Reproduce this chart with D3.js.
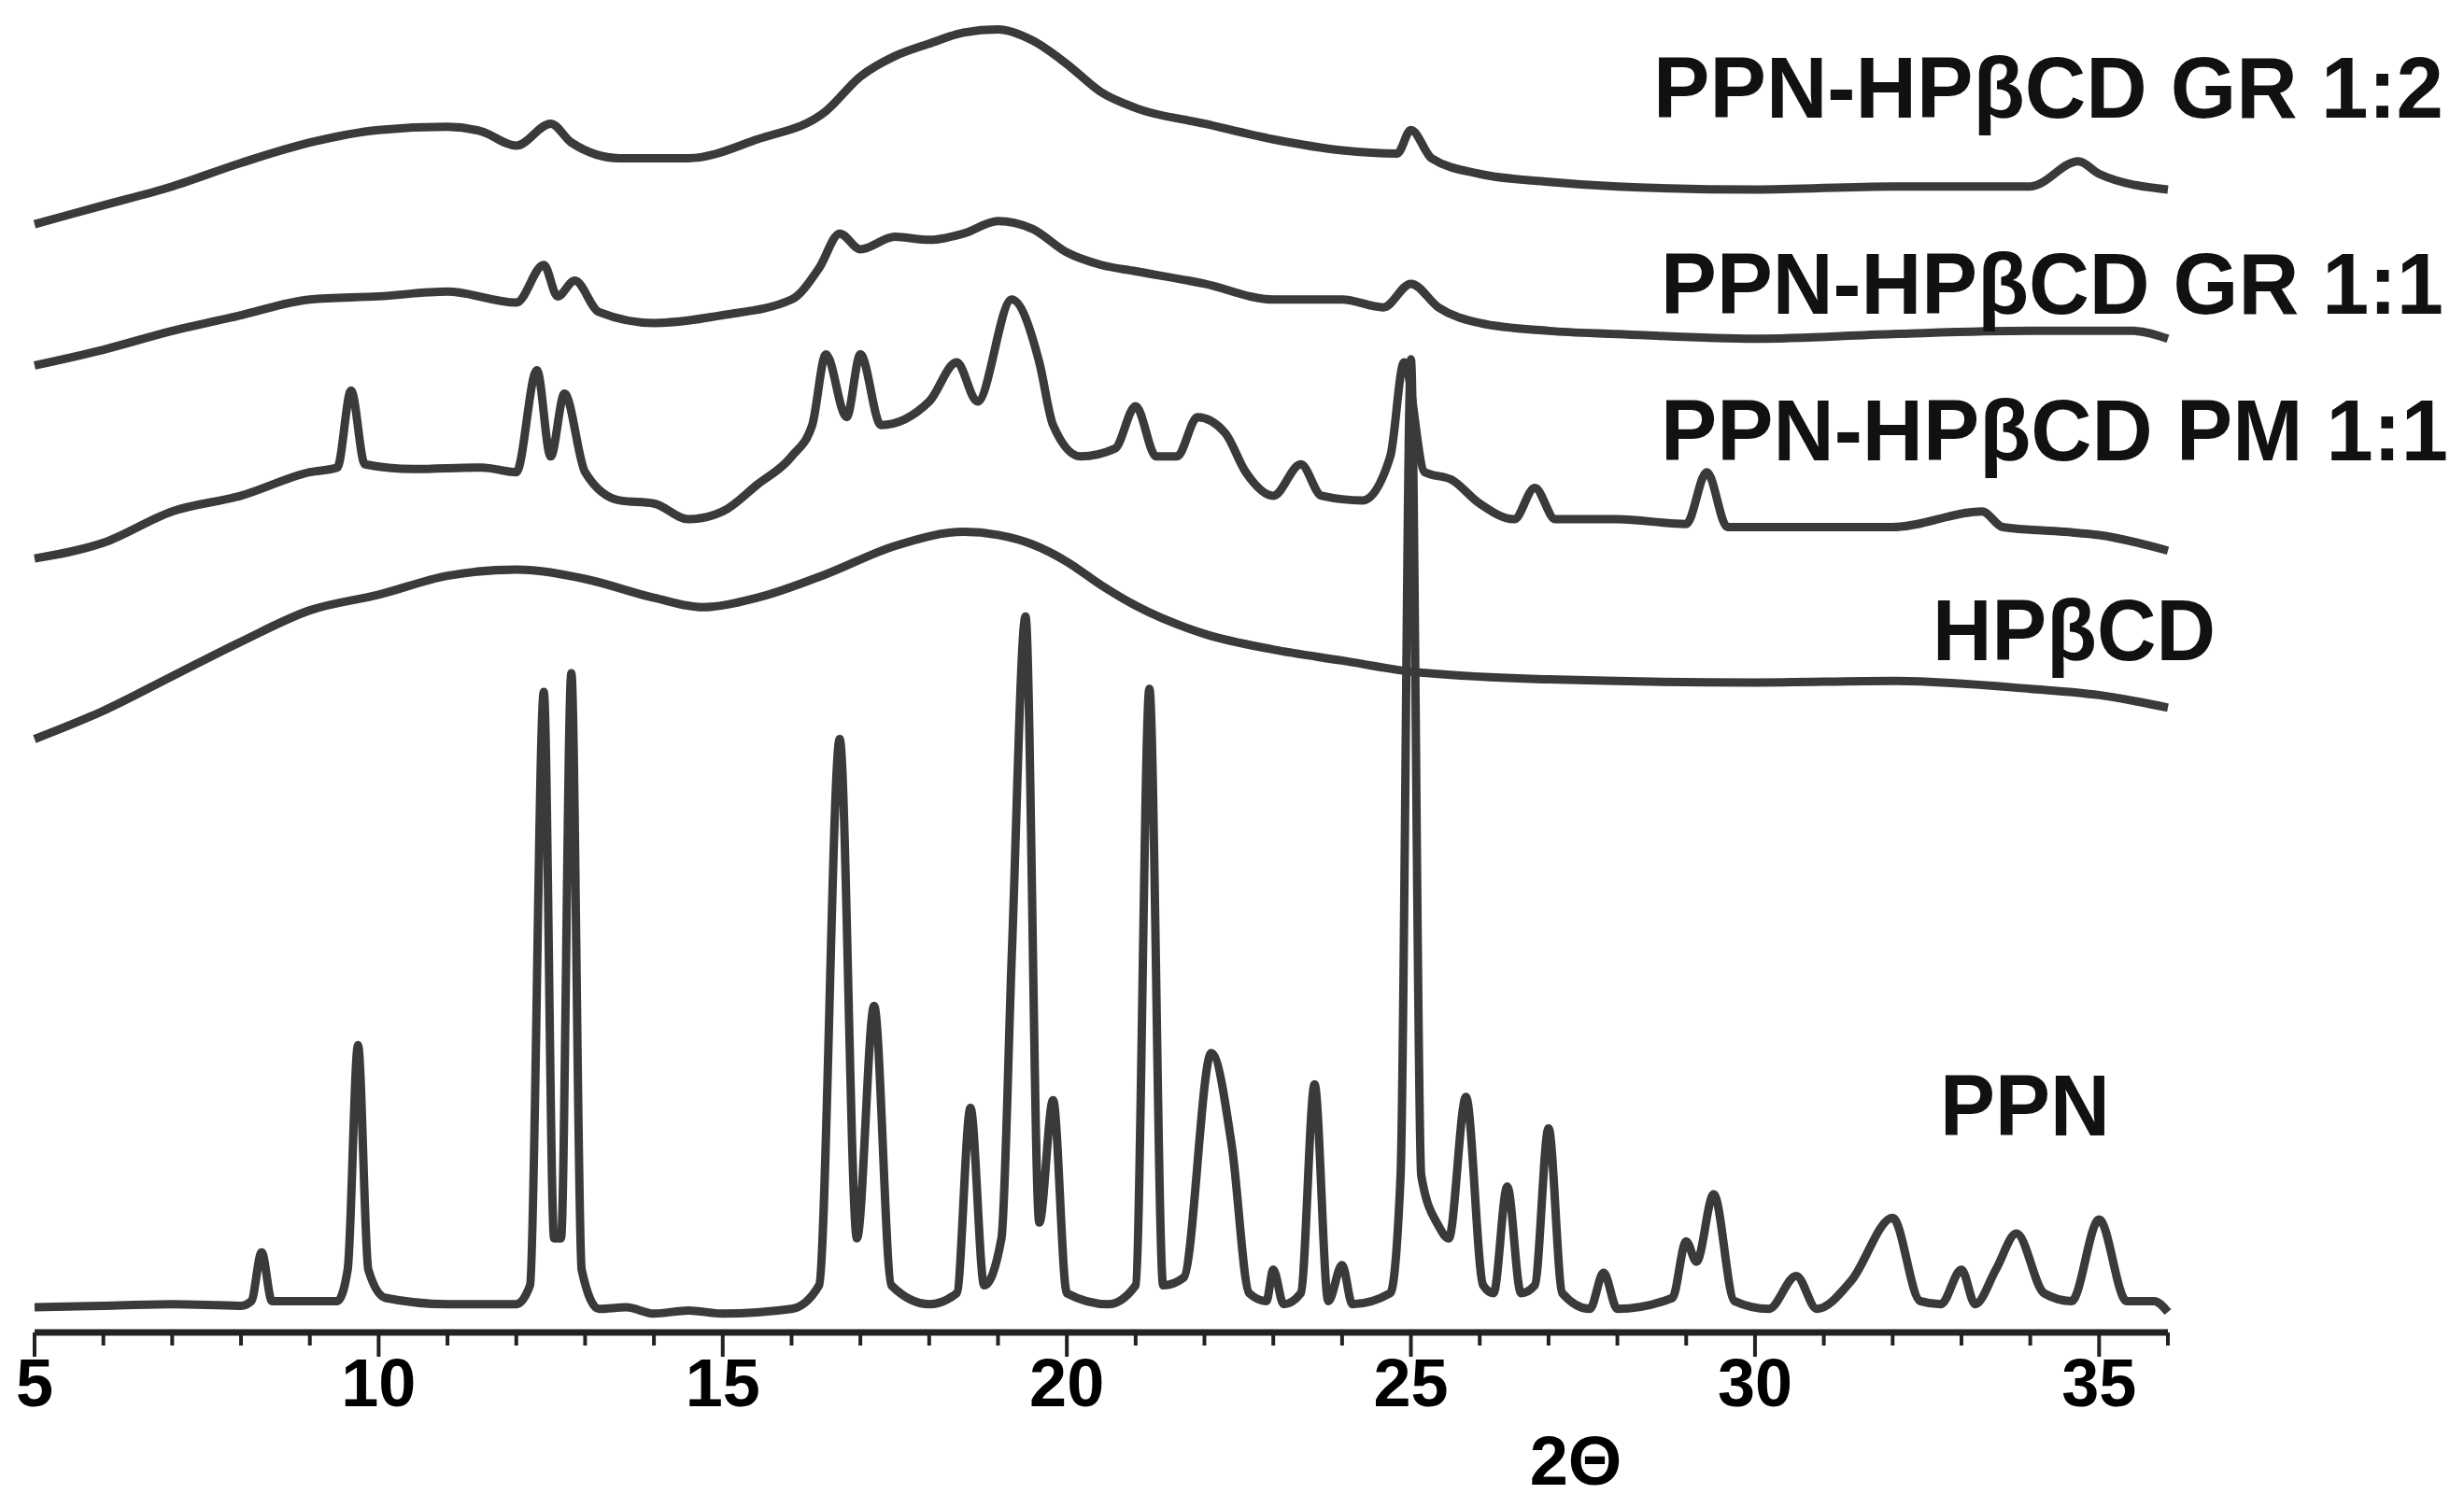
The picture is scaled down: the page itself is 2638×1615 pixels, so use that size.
<!DOCTYPE html>
<html><head><meta charset="utf-8">
<script src="https://cdn.jsdelivr.net/npm/d3@7"></script>
<style>body{margin:0;background:#fff}</style></head>
<body><svg id="c" width="2638" height="1615"></svg>
<script>
const ticks = [5,10,15,20,25,30,35];
const seriesNames = ["PPN-HPβCD GR 1:2","PPN-HPβCD GR 1:1","PPN-HPβCD PM 1:1","HPβCD","PPN"];
const ppn = [[5,16],[6,17],[7,18],[8,17],[8.15,20],[8.3,51],[8.45,20],[9.4,20],[9.55,40],[9.7,183],[9.85,40],[10.1,22],[11,18],[12,18],[12.2,30],[12.4,408],[12.55,60],[12.65,60],[12.8,420],[12.95,40],[13.2,15],[13.6,16],[14,12],[14.5,14],[15,12],[16,15],[16.4,30],[16.7,378],[16.95,60],[17.2,208],[17.45,30],[18,18],[18.4,25],[18.6,143],[18.8,30],[19.05,60],[19.2,240],[19.4,456],[19.6,70],[19.8,148],[20,25],[20.6,18],[21,30],[21.2,410],[21.4,30],[21.7,35],[22.1,178],[22.4,118],[22.65,25],[22.9,20],[23,40],[23.15,18],[23.4,25],[23.6,158],[23.8,20],[24,43],[24.15,18],[24.7,25],[24.85,100],[25,620],[25.15,100],[25.4,68],[25.55,60],[25.8,150],[26.05,30],[26.2,25],[26.4,93],[26.6,25],[26.8,30],[27,130],[27.2,25],[27.6,15],[27.8,38],[28,15],[28.8,22],[29,58],[29.15,45],[29.4,88],[29.7,20],[30.2,15],[30.6,36],[30.9,15],[31.4,33],[32,73],[32.4,20],[32.7,18],[33,40],[33.2,18],[33.5,40],[33.8,63],[34.2,25],[34.6,20],[35,72],[35.4,20],[35.8,20],[36,13]];
const hpbcd = [[5,378],[6,396],[7,418],[8,440],[9,460],[10,470],[11,482],[12,486],[13,480],[14,468],[14.7,462],[15.5,468],[16.5,483],[17.5,501],[18.5,510],[19,508],[19.5,502],[20,491],[20.5,476],[21,463],[22,445],[23,435],[24,428],[25,421],[27,416],[30,414],[32,415],[34,410],[35,406],[36,398]];
const pm11 = [[5,493],[6,503],[7,523],[8,533],[9,548],[9.4,551],[9.6,600],[9.8,553],[10.5,550],[11.5,551],[12,548],[12.3,613],[12.5,558],[12.7,598],[13,548],[13.5,530],[14,528],[14.5,518],[15,523],[15.5,540],[16,558],[16.3,578],[16.5,623],[16.8,583],[17,623],[17.3,578],[18,593],[18.4,618],[18.7,593],[19.2,658],[19.6,618],[19.8,578],[20.2,558],[20.7,563],[21,590],[21.3,558],[21.6,558],[21.9,583],[22.3,573],[22.6,548],[23,533],[23.4,553],[23.7,533],[24.3,530],[24.7,558],[24.9,618],[25.2,548],[25.6,543],[26,528],[26.5,518],[26.8,538],[27.1,518],[28,518],[29,515],[29.3,548],[29.6,513],[30.5,513],[32,513],[33.3,523],[33.6,513],[34.5,510],[35,508],[36,498]];
const gr11 = [[5,616],[6,626],[7,638],[8,648],[9,658],[10,660],[11,663],[12,656],[12.4,680],[12.6,660],[12.85,670],[13.2,650],[14,643],[15,648],[16,658],[16.4,678],[16.7,700],[17,690],[17.5,698],[18,696],[18.5,700],[19,708],[19.5,703],[20,688],[20.5,680],[21,676],[22,668],[23,658],[24,658],[24.6,653],[25,668],[25.4,653],[26,643],[27,638],[28,636],[30,633],[32,636],[34,638],[35.5,638],[36,633]];
const gr12 = [[5,706],[6,718],[7,730],[8,745],[9,758],[10,766],[11,768],[11.5,765],[12,756],[12.5,770],[12.8,758],[13.5,748],[14.5,748],[15.5,760],[16.5,778],[17,800],[17.5,813],[18,821],[18.5,828],[19,830],[19.5,823],[20,808],[20.5,790],[21,780],[22,770],[23,760],[24,753],[24.8,751],[25,766],[25.3,748],[26,738],[27,733],[28,730],[30,728],[32,730],[34,730],[34.7,746],[35,738],[36,728]];
const series = [gr12, gr11, pm11, hpbcd, ppn];

const svg = d3.select("#c");
const x = d3.scaleLinear().domain([5,36]).range([37,2321]);
const y = d3.scaleLinear().domain([0,848]).range([1427,1.3]);
const line = d3.line().x(d=>x(d[0])).y(d=>y(d[1])).curve(d3.curveMonotoneX);
series.forEach(s=>svg.append("path").attr("d",line(s)).attr("fill","none")
  .attr("stroke","#3a3a3a").attr("stroke-width",9).attr("stroke-linejoin","round"));

const ax = svg.append("g").attr("transform","translate(0,1427)");
ax.append("line").attr("x1",x(5)).attr("x2",x(36)).attr("stroke","#222").attr("stroke-width",7);
ax.selectAll(".mn").data(d3.range(5,37)).join("line")
  .attr("x1",d=>x(d)).attr("x2",d=>x(d)).attr("y1",0).attr("y2",d=>d%5===0?26:14)
  .attr("stroke","#222").attr("stroke-width",4);
svg.selectAll(".tl").data(ticks).join("text").attr("x",d=>x(d)).attr("y",1506)
  .attr("text-anchor","middle").attr("font-family","Liberation Sans, Arial").attr("font-weight","bold")
  .attr("font-size",72).text(d=>d);
svg.append("text").attr("x",1687).attr("y",1590).attr("text-anchor","middle")
  .attr("font-family","Liberation Sans, Arial").attr("font-weight","bold").attr("font-size",74).text("2Θ");

const labPos = [[1770,126,846],[1778,336,838],[1778,493,843],[2069,707,303],[2077,1216,182]];
seriesNames.forEach((n,i)=>svg.append("text").attr("x",labPos[i][0]).attr("y",labPos[i][1])
  .attr("font-family","Liberation Sans, Arial").attr("font-weight","bold").attr("font-size",92)
  .attr("textLength",labPos[i][2]).attr("lengthAdjust","spacingAndGlyphs").attr("fill","#111").text(n));
</script></body></html>
